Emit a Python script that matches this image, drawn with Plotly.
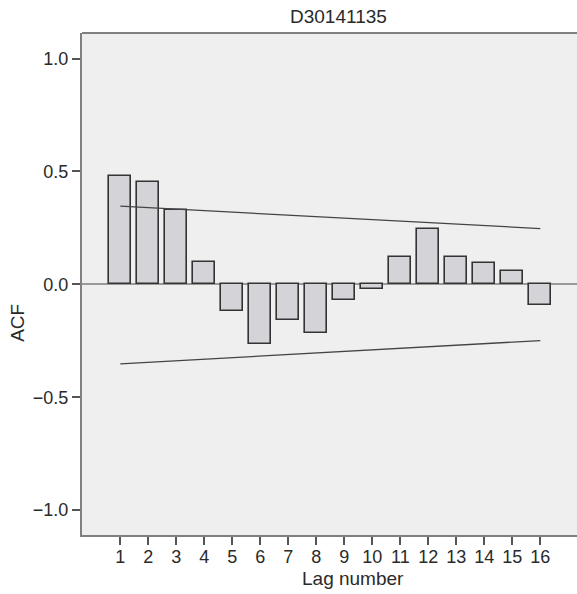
import plotly.graph_objects as go

# Data
lags = list(range(1, 17))
acf_values = [0.480, 0.451, 0.331, 0.101, -0.118, -0.264, -0.158, -0.216,
              -0.069, -0.020, 0.120, 0.246, 0.122, 0.093, 0.060, -0.093]
limit_lags = [1, 16]
upper_limit = [0.346, 0.247]
lower_limit = [-0.352, -0.249]
y_tick_vals = [-1.0, -0.5, 0.0, 0.5, 1.0]
y_tick_text = ["\u22121.0", "\u22120.5", "0.0", "0.5", "1.0"]
title_text = "D30141135"
x_title = "Lag number"
y_title = "ACF"

FONT = "Liberation Sans, Arial, sans-serif"
TXT = "#2a2a2a"

fig = go.Figure()
fig.add_trace(go.Bar(
    x=lags, y=acf_values, width=0.78,
    marker=dict(color="#d4d4d8", line=dict(color="#333333", width=1.6)),
    showlegend=False, hoverinfo="x+y",
))
fig.add_trace(go.Scatter(
    x=limit_lags, y=upper_limit, mode="lines",
    line=dict(color="#444444", width=1.3), showlegend=False,
))
fig.add_trace(go.Scatter(
    x=limit_lags, y=lower_limit, mode="lines",
    line=dict(color="#444444", width=1.3), showlegend=False,
))

W, H = 577, 594
ML, MR, MT, MB = 82, 0, 33, 59
pw = W - ML - MR
ph = H - MT - MB

def px_x(p):
    return (p - ML) / pw

def px_y(p):
    return (H - MB - p) / ph

fig.update_layout(
    width=W, height=H,
    margin=dict(l=ML, r=MR, t=MT, b=MB, pad=0),
    paper_bgcolor="white",
    plot_bgcolor="#efefef",
    font=dict(family=FONT, size=18, color=TXT),
    bargap=0,
    xaxis=dict(
        range=[-0.368, 17.31],
        tickmode="array", tickvals=lags, ticktext=[str(v) for v in lags],
        ticks="outside", ticklen=8, tickwidth=1.5, tickcolor="#555555",
        ticklabelstandoff=-4,
        showline=True, linecolor="#808080", linewidth=2,
        showgrid=False, zeroline=False,
        tickfont=dict(family=FONT, size=18, color=TXT),
    ),
    yaxis=dict(
        range=[-1.11, 1.113],
        tickmode="array", tickvals=y_tick_vals, ticktext=y_tick_text,
        ticks="outside", ticklen=8, tickwidth=1.5, tickcolor="#555555",
        showline=True, linecolor="#808080", linewidth=2,
        showgrid=False,
        zeroline=True, zerolinecolor="#9a9a9a", zerolinewidth=1.5,
        tickfont=dict(family=FONT, size=18, color=TXT),
    ),
    shapes=[dict(type="line", xref="paper", yref="paper", x0=0, x1=1, y0=1, y1=1,
                 line=dict(color="#808080", width=2))],
    annotations=[
        dict(text=title_text, xref="paper", yref="paper", x=px_x(338), y=px_y(16),
             xanchor="center", yanchor="middle", showarrow=False,
             font=dict(family=FONT, size=19, color=TXT)),
        dict(text=x_title, xref="paper", yref="paper", x=px_x(352.7), y=px_y(578),
             xanchor="center", yanchor="middle", showarrow=False,
             font=dict(family=FONT, size=19, color=TXT)),
        dict(text=y_title, xref="paper", yref="paper", x=px_x(17.5), y=px_y(323.3),
             xanchor="center", yanchor="middle", showarrow=False, textangle=-90,
             font=dict(family=FONT, size=19, color=TXT)),
    ],
)

fig.write_html("out.html")
